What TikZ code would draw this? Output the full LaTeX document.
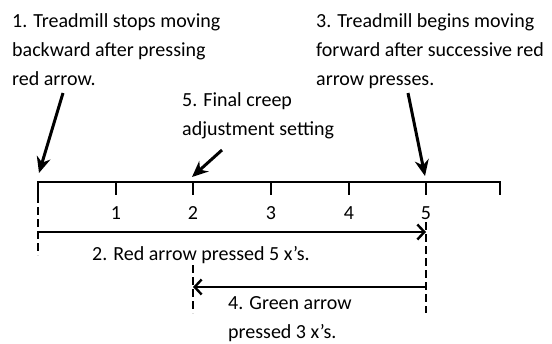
\documentclass[tikz,border=0pt]{standalone}
\usepackage{fontspec}
\setmainfont{Carlito}
\usetikzlibrary{arrows.meta}
\begin{document}
\begin{tikzpicture}[x=1pt,y=-1pt,
  txt/.style={font=\fontsize{20}{29}\selectfont, inner sep=0pt, align=left, anchor=base west},
  num/.style={font=\fontsize{20}{24}\selectfont, inner sep=0pt, anchor=base},
  axisline/.style={line width=2.4pt, line join=miter},
  dashline/.style={line width=2.4pt, dash pattern=on 8pt off 4pt},
  bigarrow/.style={line width=3pt, -{Stealth[length=16pt,width=14pt]}},
  measarrow/.style={line width=2.4pt, -{Straight Barb[length=7pt,width=15pt,line width=2.4pt]}}
]
\useasboundingbox (0,0) rectangle (552,343);
% axis coordinates
\coordinate (t0) at (38,182);
\coordinate (t1) at (116,182);
\coordinate (t2) at (193,182);
\coordinate (t3) at (271,182);
\coordinate (t4) at (349,182);
\coordinate (t5) at (426,182);
\coordinate (t6) at (500,182);
\coordinate (b0) at (38,195);
\coordinate (b1) at (116,195);
\coordinate (b2) at (193,195);
\coordinate (b3) at (271,195);
\coordinate (b4) at (349,195);
\coordinate (b5) at (426,195);
\coordinate (b6) at (500,195);
% axis
\draw[axisline] (b0) -- (t0) -- (t6) -- (b6);
\foreach \i in {1,...,5} \draw[axisline] (t\i) -- (b\i);
% numbers
\foreach \i in {1,...,5} \node[num] (l\i) at ([yshift=-24pt]b\i) {\i};
% dashed verticals
\coordinate (d0) at (38,255);
\coordinate (d5a) at (426,222);
\coordinate (d5) at (426,313);
\coordinate (d2a) at (193,265);
\coordinate (d2) at (193,313);
\draw[dashline] (b0) -- (d0);
\draw[dashline] (d5a) -- (d5);
\draw[dashline] (d2a) -- (d2);
% measure arrows
\coordinate (r0) at (38,232);
\coordinate (r5) at (426,232);
\coordinate (g5) at (426,287);
\coordinate (g2) at (193,287);
\draw[measarrow] (r0) -- (r5);
\draw[measarrow] (g5) -- (g2);
% texts (base anchor = baseline of last line)
\node[txt] (n1) at (12,85) {1. Treadmill stops moving\\backward after pressing\\red arrow.};
\node[txt] (n3) at (316,85) {3. Treadmill begins moving\\forward after successive red\\arrow presses.};
\node[txt] (n5) at (182,135) {5. Final creep\\adjustment setting};
\node[txt] (n2) at (92,260) {2. Red arrow pressed 5 x’s.};
\node[txt] (n4) at (228,338) {4. Green arrow\\pressed 3 x’s.};
% big arrows
\coordinate (a1s) at (63,93);
\coordinate (a1e) at (39,173);
\coordinate (a3s) at (408,93);
\coordinate (a3e) at (425,176);
\coordinate (a5s) at (222,150);
\coordinate (a5e) at (192,177);
\draw[bigarrow] (a1s) -- (a1e);
\draw[bigarrow] (a3s) -- (a3e);
\draw[bigarrow] (a5s) -- (a5e);
\end{tikzpicture}
\end{document}
